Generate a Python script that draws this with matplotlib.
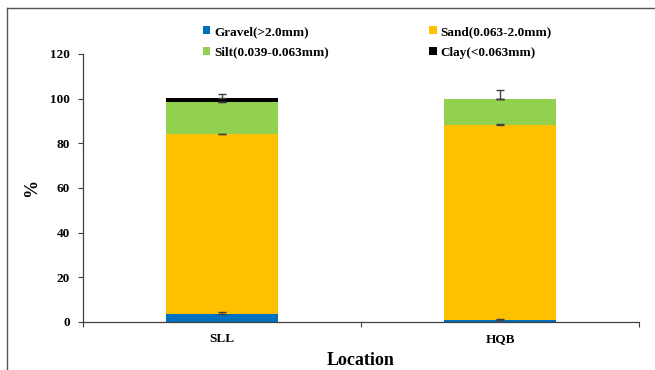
import matplotlib
matplotlib.use("Agg")
import matplotlib.pyplot as plt
from matplotlib.patches import Patch
from matplotlib.lines import Line2D

plt.rcParams['font.family'] = ['Liberation Serif', 'DejaVu Serif']
plt.rcParams['font.weight'] = 'bold'

locations = ["SLL", "HQB"]
series_names = ["Gravel(>2.0mm)", "Sand(0.063-2.0mm)", "Silt(0.039-0.063mm)", "Clay(<0.063mm)"]
gravel = [3.6, 1.0]
sand = [80.5, 87.3]
silt = [14.3, 11.6]
clay = [1.7, 0.1]
gravel_err = [0.7, 0.5]
sand_err = [0.3, 0.3]
silt_err = [0.0, 0.0]
clay_err = [1.9, 3.7]
yticks = [0, 20, 40, 60, 80, 100, 120]

colors = ["#0070C0", "#FFC000", "#92D050", "#000000"]

W, H = 655, 370
fig = plt.figure(figsize=(W / 100, H / 100), dpi=100)
ax = fig.add_axes([83 / W, 1 - 322 / H, (639 - 83) / W, (322 - 54) / H])

x = list(range(len(locations)))
values = [gravel, sand, silt, clay]
errs = [gravel_err, sand_err, silt_err, clay_err]
bottom = [0.0] * len(x)
for vals, err, c in zip(values, errs, colors):
    ax.bar(x, vals, width=0.4, bottom=bottom, color=c, edgecolor='none', zorder=2)
    tops = [b + v for b, v in zip(bottom, vals)]
    ax.errorbar(x, tops, yerr=[[0] * len(x), err], fmt='none', ecolor='#404040',
                elinewidth=1.0, capsize=3, capthick=1.0, zorder=3)
    bottom = tops

ax.set_xlim(-0.5, 1.5)
ax.set_ylim(0, 120)
ax.set_yticks(yticks)
ax.set_xticks(x)
ax.set_xticklabels(locations)
ax.set_xticks([-0.5, 0.5, 1.5], minor=True)
ax.tick_params(axis='x', which='major', length=0, pad=8, labelsize=9.5)
ax.tick_params(axis='x', which='minor', length=3.5, width=0.8, direction='out', color='#404040')
ax.tick_params(axis='y', length=3.5, width=0.8, direction='out', pad=6, labelsize=9.5, color='#404040')
for lbl in ax.get_xticklabels() + ax.get_yticklabels():
    lbl.set_fontweight('bold')

for s in ['top', 'right']:
    ax.spines[s].set_visible(False)
for s in ['left', 'bottom']:
    ax.spines[s].set_color('#404040')
    ax.spines[s].set_linewidth(0.9)

ax.set_xlabel("Location", fontsize=13, fontweight='bold', labelpad=5)
ax.set_ylabel("%", fontsize=13, fontweight='bold', labelpad=7)

handles = [Patch(facecolor=c, edgecolor='none') for c in colors]
order = [0, 2, 1, 3]
leg = fig.legend([handles[i] for i in order], [series_names[i] for i in order],
                 ncol=2, loc='upper left', bbox_to_anchor=(203 / W, 1 - 26 / H),
                 frameon=False, handlelength=0.55, handleheight=0.55,
                 handletextpad=0.3, columnspacing=7.6, labelspacing=0.65,
                 borderpad=0, borderaxespad=0, prop={'weight': 'bold', 'size': 9.5})

# figure frame (left and top edges visible)
fig.add_artist(Line2D([7 / W, 7 / W], [0, 1 - 8 / H], transform=fig.transFigure, color='#555555', lw=1.0))
fig.add_artist(Line2D([7 / W, 1], [1 - 8 / H, 1 - 8 / H], transform=fig.transFigure, color='#555555', lw=1.0))

fig.savefig("out.png", dpi=100)
